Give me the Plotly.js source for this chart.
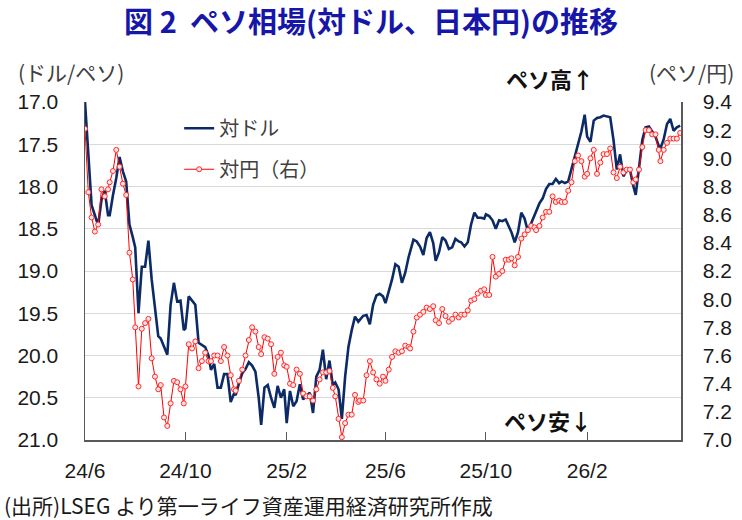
<!DOCTYPE html>
<html>
<head>
<meta charset="utf-8">
<script src="https://cdn.plot.ly/plotly-3.0.1.min.js"></script>
<style>html,body{margin:0;padding:0;background:#fff;}#chart{width:742px;height:520px;}</style>
</head>
<body>
<div id="chart"></div>
<script>
var dates = [
"2024-06-01","2024-06-05","2024-06-09","2024-06-13","2024-06-17","2024-06-21","2024-06-25","2024-06-29",
"2024-07-01","2024-07-05","2024-07-09","2024-07-13","2024-07-17","2024-07-21","2024-07-25","2024-07-29",
"2024-08-01","2024-08-05","2024-08-09","2024-08-13","2024-08-17","2024-08-21","2024-08-25","2024-08-29",
"2024-09-01","2024-09-05","2024-09-09","2024-09-13","2024-09-17","2024-09-21","2024-09-25","2024-09-29",
"2024-10-01","2024-10-05","2024-10-09","2024-10-13","2024-10-17","2024-10-21","2024-10-25","2024-10-29",
"2024-11-01","2024-11-05","2024-11-09","2024-11-13","2024-11-17","2024-11-21","2024-11-25","2024-11-29",
"2024-12-01","2024-12-05","2024-12-09","2024-12-13","2024-12-17","2024-12-21","2024-12-25","2024-12-29",
"2025-01-01","2025-01-05","2025-01-09","2025-01-13","2025-01-17","2025-01-21","2025-01-25","2025-01-29",
"2025-02-01","2025-02-05","2025-02-09","2025-02-13","2025-02-17","2025-02-21","2025-02-25",
"2025-03-01","2025-03-05","2025-03-09","2025-03-13","2025-03-17","2025-03-21","2025-03-25","2025-03-29",
"2025-04-01","2025-04-05","2025-04-09","2025-04-13","2025-04-17","2025-04-21","2025-04-25","2025-04-29",
"2025-05-01","2025-05-05","2025-05-09","2025-05-13","2025-05-17","2025-05-21","2025-05-25","2025-05-29",
"2025-06-01","2025-06-05","2025-06-09","2025-06-13","2025-06-17","2025-06-21","2025-06-25","2025-06-29",
"2025-07-01","2025-07-05","2025-07-09","2025-07-13","2025-07-17","2025-07-21","2025-07-25","2025-07-29",
"2025-08-01","2025-08-05","2025-08-09","2025-08-13","2025-08-17","2025-08-21","2025-08-25","2025-08-29",
"2025-09-01","2025-09-05","2025-09-09","2025-09-13","2025-09-17","2025-09-21","2025-09-25","2025-09-29",
"2025-10-01","2025-10-05","2025-10-09","2025-10-13","2025-10-17","2025-10-21","2025-10-25","2025-10-29",
"2025-11-01","2025-11-05","2025-11-09","2025-11-13","2025-11-17","2025-11-21","2025-11-25","2025-11-29",
"2025-12-01","2025-12-05","2025-12-09","2025-12-13","2025-12-17","2025-12-21","2025-12-25","2025-12-29",
"2026-01-01","2026-01-05","2026-01-09","2026-01-13","2026-01-17","2026-01-21","2026-01-25","2026-01-29",
"2026-02-01","2026-02-05","2026-02-09","2026-02-13","2026-02-17","2026-02-21","2026-02-25",
"2026-03-01","2026-03-05","2026-03-09","2026-03-13","2026-03-17","2026-03-21","2026-03-25","2026-03-29",
"2026-04-01","2026-04-05","2026-04-09","2026-04-13","2026-04-17","2026-04-21","2026-04-25","2026-04-29",
"2026-05-01","2026-05-05","2026-05-09","2026-05-13","2026-05-17","2026-05-21","2026-05-25"
];

// MXN per USD (left axis, reversed)
var perUSD = [
17.0,17.62,18.22,18.34,18.46,18.16,18.05,18.34,
18.34,18.1,17.9,17.65,17.82,17.94,18.45,18.6,
18.72,19.5,18.95,18.95,18.64,19.1,19.45,19.77,
19.8,19.9,19.99,19.4,19.14,19.36,19.35,19.7,
19.68,19.3,19.35,19.4,19.85,19.88,19.9,20.0,
20.17,20.1,20.38,20.38,20.22,20.22,20.55,20.45,
20.47,20.33,20.21,20.16,20.08,20.12,20.19,20.5,
20.82,20.38,20.35,20.5,20.62,20.36,20.5,20.4,
20.8,20.42,20.6,20.54,20.34,20.52,20.48,
20.44,20.68,20.25,20.17,19.93,20.28,20.06,20.35,
20.32,20.4,20.75,20.25,19.9,19.7,19.54,19.6,
19.58,19.53,19.52,19.63,19.4,19.29,19.27,19.3,
19.38,19.25,19.1,18.92,18.95,19.14,19.02,18.84,
18.76,18.63,18.65,18.71,18.81,18.61,18.54,18.67,
18.88,18.78,18.6,18.64,18.74,18.72,18.62,18.65,
18.66,18.71,18.66,18.45,18.31,18.37,18.37,18.38,
18.33,18.35,18.4,18.5,18.4,18.41,18.39,18.48,
18.54,18.66,18.54,18.31,18.38,18.53,18.44,18.35,
18.29,18.2,18.14,18.03,17.97,17.97,17.91,17.96,
17.94,17.96,17.94,17.79,17.63,17.47,17.35,17.15,
17.41,17.47,17.22,17.19,17.18,17.16,17.17,
17.18,17.45,17.8,17.62,17.88,17.81,17.8,17.99,
18.1,17.78,17.45,17.3,17.29,17.35,17.41,17.52,
17.55,17.44,17.26,17.2,17.34,17.3,17.28
];

// JPY per MXN (right axis)
var perJPY = [
9.21,8.76,8.58,8.48,8.53,8.78,8.73,8.78,
8.83,8.91,9.06,8.94,8.82,8.74,8.33,8.14,
7.8,7.38,7.79,7.83,7.86,7.58,7.45,7.36,
7.39,7.16,7.1,7.26,7.42,7.41,7.36,7.26,
7.38,7.68,7.65,7.7,7.51,7.56,7.62,7.56,
7.56,7.6,7.6,7.56,7.66,7.6,7.46,7.36,
7.35,7.42,7.5,7.6,7.71,7.8,7.77,7.66,
7.61,7.73,7.72,7.68,7.47,7.59,7.62,7.53,
7.52,7.4,7.39,7.5,7.47,7.33,7.31,
7.31,7.28,7.36,7.43,7.48,7.48,7.49,7.37,
7.31,7.15,7.02,7.12,7.18,7.18,7.32,7.27,
7.28,7.28,7.46,7.56,7.48,7.43,7.4,7.45,
7.42,7.5,7.59,7.63,7.62,7.63,7.67,7.66,
7.65,7.77,7.87,7.89,7.91,7.94,7.93,7.95,
7.85,7.83,7.93,7.88,7.84,7.86,7.89,7.87,
7.89,7.89,7.92,7.99,8.0,8.04,8.06,8.07,
8.03,8.03,8.3,8.16,8.18,8.2,8.28,8.28,
8.29,8.24,8.3,8.43,8.46,8.49,8.52,8.51,
8.49,8.52,8.58,8.62,8.62,8.73,8.69,8.7,
8.69,8.69,8.77,8.83,8.98,9.02,8.98,8.87,
8.89,9.0,9.06,8.89,8.97,9.03,9.03,
9.07,8.9,8.86,8.94,8.9,8.92,8.92,8.83,
8.85,8.92,9.08,9.2,9.2,9.17,9.17,9.06,
8.98,9.06,9.11,9.14,9.14,9.14,9.18
];

var tickDates = ["2024-06-01","2024-10-01","2025-02-01","2025-06-01","2025-10-01","2026-02-01"];
var tickText = ["24/6","24/10","25/2","25/6","25/10","26/2"];
var seriesNames = ["対ドル","対円（右）"];

var JP = '"Noto Sans CJK JP", "Noto Sans", sans-serif';
var NUM = '"Liberation Sans", Arial, sans-serif';
var AX = '#595959';

var traces = [
  {x: dates, y: perUSD, name: seriesNames[0], type: 'scatter', mode: 'lines', yaxis: 'y',
   legendgroup: 'a', line: {color: '#0c2a66', width: 2.6}, hoverinfo: 'skip'},
  {x: dates, y: perJPY, name: seriesNames[1], type: 'scatter', mode: 'lines+markers', yaxis: 'y2',
   legendgroup: 'b', line: {color: '#ff0000', width: 1},
   marker: {symbol: 'circle', size: 5, color: '#ffe4e4', line: {color: '#ff2a2a', width: 1}}, hoverinfo: 'skip'}
];

var layout = {
  width: 742, height: 520,
  margin: {l: 85, r: 61, t: 102, b: 80},
  paper_bgcolor: '#ffffff', plot_bgcolor: '#ffffff',
  font: {family: JP, color: '#262626'},
  title: {text: '図 2  ペソ相場(対ドル、日本円)の推移', x: 0.5, xanchor: 'center', y: 0.956, yanchor: 'middle',
          font: {family: JP, size: 29, color: '#1616a8', weight: 'bold'}},
  showlegend: true,
  legend: {x: 0.158, y: 0.98, xanchor: 'left', yanchor: 'top', bgcolor: 'rgba(0,0,0,0)', borderwidth: 0,
           font: {family: JP, size: 20, color: '#404040'}, tracegroupgap: 12},
  xaxis: {type: 'date', range: ['2024-06-01', '2026-05-26'], tickmode: 'array', tickvals: tickDates, ticktext: tickText,
          ticks: 'inside', ticklen: 8, tickwidth: 1, tickcolor: AX, showline: true, linecolor: AX, linewidth: 1.5,
          showgrid: false, zeroline: false, ticklabelstandoff: 11,
          tickfont: {family: NUM, size: 21, color: '#1a1a1a'}},
  yaxis: {range: [21, 17], tick0: 17, dtick: 0.5, tickformat: '.1f', showgrid: true, gridcolor: '#d9d9d9', gridwidth: 1,
          showline: true, linecolor: AX, linewidth: 1.5, ticks: 'outside', ticklen: 21, tickcolor: 'rgba(0,0,0,0)',
          zeroline: false, tickfont: {family: NUM, size: 21, color: '#1a1a1a'}},
  yaxis2: {overlaying: 'y', side: 'right', range: [7.0, 9.4], tick0: 7, dtick: 0.2, tickformat: '.1f', showgrid: false,
           showline: true, linecolor: AX, linewidth: 1.5, ticks: 'outside', ticklen: 16, tickcolor: 'rgba(0,0,0,0)',
           zeroline: false, tickfont: {family: NUM, size: 21, color: '#1a1a1a'}},
  annotations: [
    {text: '(ドル/ペソ)', xref: 'paper', yref: 'paper', x: -0.115, y: 1.089, xanchor: 'left', yanchor: 'middle', showarrow: false,
     font: {family: JP, size: 21, color: '#404040'}},
    {text: '(ペソ/円)', xref: 'paper', yref: 'paper', x: 1.093, y: 1.089, xanchor: 'right', yanchor: 'middle', showarrow: false,
     font: {family: JP, size: 21, color: '#404040'}},
    {text: 'ペソ高↑', xref: 'paper', yref: 'paper', x: 0.78, y: 1.071, xanchor: 'center', yanchor: 'middle', showarrow: false,
     font: {family: JP, size: 22, color: '#111111', weight: 'bold'}},
    {text: 'ペソ安↓', xref: 'paper', yref: 'paper', x: 0.777, y: 0.059, xanchor: 'center', yanchor: 'middle', showarrow: false,
     font: {family: JP, size: 22, color: '#111111', weight: 'bold'}},
    {text: '(出所)LSEG より第一ライフ資産運用経済研究所作成', xref: 'paper', yref: 'paper', x: -0.139, y: -0.192,
     xanchor: 'left', yanchor: 'middle', showarrow: false, font: {family: JP, size: 21, color: '#1a1a1a'}}
  ]
};

Plotly.newPlot('chart', traces, layout, {staticPlot: true, displayModeBar: false});
</script>
</body>
</html>
